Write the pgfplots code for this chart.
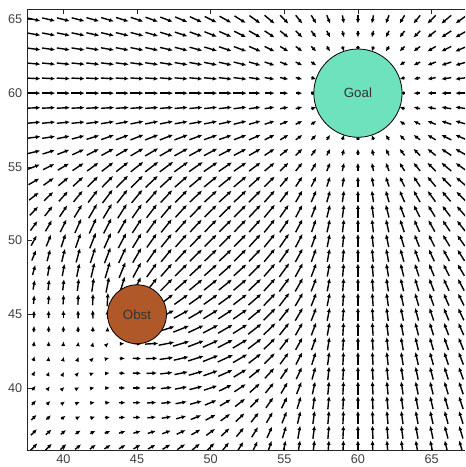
\documentclass[border=0pt]{standalone}
\usepackage{fontspec}
\setmainfont{Liberation Sans}
\usepackage{pgfplots}
\usepackage{pgfplotstable}
\pgfplotsset{compat=1.18}
\usetikzlibrary{arrows.meta}
\definecolor{goalc}{RGB}{110,226,188}
\definecolor{obstc}{RGB}{176,88,40}
\pgfplotstableread{
x y fx fy L
38 65 22 -5 0.9
39 65 21 -5 0.9
40 65 20 -5 0.9
41 65 19 -5 0.9
42 65 18 -5 0.9
43 65 17 -5 0.9
44 65 16 -5 0.9
45 65 15 -5 0.9
46 65 14 -5 0.9
47 65 13 -5 0.9
48 65 12 -5 0.9
49 65 11 -5 0.9
50 65 10 -5 0.9
51 65 9 -5 0.9
52 65 8 -5 0.9
53 65 7 -5 0.9
54 65 6 -5 0.88
55 65 5 -5 0.8
56 65 4 -5 0.72
57 65 3 -5 0.66
58 65 2 -5 0.61
59 65 1 -5 0.57
60 65 0 -5 0.56
61 65 -1 -5 0.57
62 65 -2 -5 0.61
63 65 -3 -5 0.66
64 65 -4 -5 0.72
65 65 -5 -5 0.8
66 65 -6 -5 0.88
67 65 -7 -5 0.9
38 64 22 -4 0.9
39 64 21 -4 0.9
40 64 20 -4 0.9
41 64 19 -4 0.9
42 64 18 -4 0.9
43 64 17 -4 0.9
44 64 16 -4 0.9
45 64 15 -4 0.9
46 64 14 -4 0.9
47 64 13 -4 0.9
48 64 12 -4 0.9
49 64 11 -4 0.9
50 64 10 -4 0.9
51 64 9 -4 0.9
52 64 8 -4 0.9
53 64 7 -4 0.9
54 64 6 -4 0.81
55 64 5 -4 0.72
56 64 4 -4 0.64
57 64 3 -4 0.56
58 64 2 -4 0.5
59 64 1 -4 0.46
60 64 0 -4 0.45
61 64 -1 -4 0.46
62 64 -2 -4 0.5
63 64 -3 -4 0.56
64 64 -4 -4 0.64
65 64 -5 -4 0.72
66 64 -6 -4 0.81
67 64 -7 -4 0.9
38 63 22 -3 0.9
39 63 21 -3 0.9
40 63 20 -3 0.9
41 63 19 -3 0.9
42 63 18 -3 0.9
43 63 17 -3 0.9
44 63 16 -3 0.9
45 63 15 -3 0.9
46 63 14 -3 0.9
47 63 13 -3 0.9
48 63 12 -3 0.9
49 63 11 -3 0.9
50 63 10 -3 0.9
51 63 9 -3 0.9
52 63 8 -3 0.9
53 63 7 -3 0.86
54 63 6 -3 0.75
55 63 5 -3 0.66
56 63 4 -3 0.56
57 63 3 -3 0.48
58 63 2 -3 0.41
59 63 1 -3 0.36
60 63 0 -3 0.34
61 63 -1 -3 0.36
62 63 -2 -3 0.41
63 63 -3 -3 0.48
64 63 -4 -3 0.56
65 63 -5 -3 0.66
66 63 -6 -3 0.75
67 63 -7 -3 0.86
38 62 22 -2 0.9
39 62 21 -2 0.9
40 62 20 -2 0.9
41 62 19 -2 0.9
42 62 18 -2 0.9
43 62 17 -2 0.9
44 62 16 -2 0.9
45 62 15 -2 0.9
46 62 14 -2 0.9
47 62 13 -2 0.9
48 62 12 -2 0.9
49 62 11 -2 0.9
50 62 10 -2 0.9
51 62 9 -2 0.9
52 62 8 -2 0.9
53 62 7 -2 0.82
54 62 6 -2 0.71
55 62 5 -2 0.61
56 62 4 -2 0.5
57 62 3 -2 0.41
63 62 -3 -2 0.41
64 62 -4 -2 0.5
65 62 -5 -2 0.61
66 62 -6 -2 0.71
67 62 -7 -2 0.82
38 61 22 -1 0.9
39 61 21 -1 0.9
40 61 20 -1 0.9
41 61 19 -1 0.9
42 61 18 -1 0.9
43 61 17 -1 0.9
44 61 16 -1 0.9
45 61 15 -1 0.9
46 61 14 -1 0.9
47 61 13 -1 0.9
48 61 12 -1 0.9
49 61 11 -1 0.9
50 61 10 -1 0.9
51 61 9 -1 0.9
52 61 8 -1 0.9
53 61 7 -1 0.8
54 61 6 -1 0.68
55 61 5 -1 0.57
56 61 4 -1 0.46
57 61 3 -1 0.36
63 61 -3 -1 0.36
64 61 -4 -1 0.46
65 61 -5 -1 0.57
66 61 -6 -1 0.68
67 61 -7 -1 0.8
38 60 22 0 0.9
39 60 21 0 0.9
40 60 20 0 0.9
41 60 19 0 0.9
42 60 18 0 0.9
43 60 17 0 0.9
44 60 16 0 0.9
45 60 15 0 0.9
46 60 14 0 0.9
47 60 13 0 0.9
48 60 12 0 0.9
49 60 11 0 0.9
50 60 10 0 0.9
51 60 9 0 0.9
52 60 8 0 0.9
53 60 7 0 0.79
54 60 6 0 0.68
55 60 5 0 0.56
56 60 4 0 0.45
57 60 3 0 0.34
63 60 -3 0 0.34
64 60 -4 0 0.45
65 60 -5 0 0.56
66 60 -6 0 0.68
67 60 -7 0 0.79
38 59 22 1 0.9
39 59 21 1 0.9
40 59 20 1 0.9
41 59 19 1 0.9
42 59 18 1 0.9
43 59 17 1 0.9
44 59 16 1 0.9
45 59 15 1 0.9
46 59 14 1 0.9
47 59 13 1 0.9
48 59 12 1 0.9
49 59 11 1 0.9
50 59 10 1 0.9
51 59 9 1 0.9
52 59 8 1 0.9
53 59 7 1 0.8
54 59 6 1 0.68
55 59 5 1 0.57
56 59 4 1 0.46
57 59 3 1 0.36
63 59 -3 1 0.36
64 59 -4 1 0.46
65 59 -5 1 0.57
66 59 -6 1 0.68
67 59 -7 1 0.8
38 58 22 2 0.9
39 58 21 2 0.9
40 58 20 2 0.9
41 58 19 2 0.9
42 58 0.990 0.129 0.9
43 58 0.987 0.159 0.9
44 58 0.988 0.181 0.9
45 58 0.991 0.194 0.91
46 58 0.994 0.198 0.91
47 58 0.995 0.194 0.91
48 58 0.990 0.183 0.9
49 58 11 2 0.9
50 58 10 2 0.9
51 58 9 2 0.9
52 58 8 2 0.9
53 58 7 2 0.82
54 58 6 2 0.71
55 58 5 2 0.61
56 58 4 2 0.5
57 58 3 2 0.41
63 58 -3 2 0.41
64 58 -4 2 0.5
65 58 -5 2 0.61
66 58 -6 2 0.71
67 58 -7 2 0.82
38 57 22 3 0.9
39 57 0.99 0.15 0.89
40 57 0.965 0.205 0.89
41 57 0.955 0.255 0.89
42 57 0.952 0.299 0.9
43 57 0.958 0.336 0.91
44 57 0.968 0.363 0.93
45 57 0.981 0.381 0.95
46 57 0.993 0.388 0.96
47 57 1.001 0.387 0.97
48 57 1.004 0.378 0.97
49 57 0.998 0.362 0.95
50 57 0.982 0.344 0.94
51 57 0.953 0.325 0.9
52 57 8 3 0.9
53 57 7 3 0.86
54 57 6 3 0.75
55 57 5 3 0.66
56 57 4 3 0.56
57 57 3 3 0.48
58 57 2 3 0.41
59 57 1 3 0.36
60 57 0 3 0.34
61 57 -1 3 0.36
62 57 -2 3 0.41
63 57 -3 3 0.48
64 57 -4 3 0.56
65 57 -5 3 0.66
66 57 -6 3 0.75
67 57 -7 3 0.86
38 56 0.953 0.227 0.88
39 56 0.925 0.292 0.87
40 56 0.909 0.355 0.88
41 56 0.903 0.414 0.89
42 56 0.908 0.466 0.92
43 56 0.922 0.51 0.95
44 56 0.943 0.544 0.98
45 56 0.966 0.566 1.01
46 56 0.989 0.576 1.03
47 56 1.007 0.575 1.04
48 56 1.017 0.565 1.05
49 56 1.016 0.55 1.04
50 56 1.0 0.53 1.02
51 56 0.971 0.511 0.99
52 56 0.925 0.495 0.94
53 56 7 4 0.9
54 56 6 4 0.81
55 56 5 4 0.72
56 56 4 4 0.64
57 56 3 4 0.56
58 56 2 4 0.5
59 56 1 4 0.46
60 56 0 4 0.45
61 56 -1 4 0.46
62 56 -2 4 0.5
63 56 -3 4 0.56
64 56 -4 4 0.64
65 56 -5 4 0.72
66 56 -6 4 0.81
67 56 -7 4 0.9
38 55 0.884 0.352 0.86
39 55 0.857 0.426 0.86
40 55 0.842 0.498 0.88
41 55 0.842 0.567 0.91
42 55 0.856 0.629 0.96
43 55 0.879 0.681 1.0
44 55 0.912 0.721 1.05
45 55 0.949 0.747 1.09
46 55 0.984 0.758 1.12
47 55 1.013 0.758 1.14
48 55 1.031 0.746 1.15
49 55 1.035 0.726 1.14
50 55 1.022 0.703 1.12
51 55 0.99 0.68 1.08
52 55 0.939 0.66 1.03
53 55 0.867 0.648 0.97
54 55 0.75 0.625 0.88
55 55 5 5 0.8
56 55 4 5 0.72
57 55 3 5 0.66
58 55 2 5 0.61
59 55 1 5 0.57
60 55 0 5 0.56
61 55 -1 5 0.57
62 55 -2 5 0.61
63 55 -3 5 0.66
64 55 -4 5 0.72
65 55 -5 5 0.8
66 55 -6 5 0.88
67 55 -7 5 0.9
38 54 0.806 0.467 0.84
39 54 0.778 0.55 0.86
40 54 0.766 0.632 0.89
41 54 0.771 0.712 0.94
42 54 0.793 0.785 1.0
43 54 0.829 0.847 1.07
44 54 0.876 0.895 1.13
45 54 0.928 0.925 1.15
46 54 0.979 0.938 1.15
47 54 1.022 0.933 1.15
48 54 1.05 0.916 1.15
49 54 1.061 0.89 1.15
50 54 1.049 0.86 1.15
51 54 1.015 0.83 1.15
52 54 0.959 0.804 1.13
53 54 0.878 0.785 1.06
54 54 0.774 0.774 0.99
55 54 0.625 0.75 0.88
56 54 4 6 0.81
57 54 3 6 0.75
58 54 2 6 0.71
59 54 1 6 0.68
60 54 0 6 0.68
61 54 -1 6 0.68
62 54 -2 6 0.71
63 54 -3 6 0.75
64 54 -4 6 0.81
65 54 -5 6 0.88
66 54 -6 6 0.9
67 54 -7 6 0.9
38 53 0.72 0.569 0.83
39 53 0.691 0.661 0.86
40 53 0.679 0.754 0.91
41 53 0.688 0.847 0.98
42 53 0.718 0.934 1.06
43 53 0.768 1.008 1.14
44 53 0.833 1.065 1.15
45 53 0.906 1.1 1.15
46 53 0.977 1.111 1.15
47 53 1.037 1.101 1.15
48 53 1.078 1.075 1.15
49 53 1.095 1.039 1.15
50 53 1.084 0.998 1.15
51 53 1.047 0.959 1.15
52 53 0.986 0.925 1.15
53 53 0.897 0.897 1.14
54 53 0.785 0.878 1.06
55 53 0.648 0.867 0.97
56 53 4 7 0.9
57 53 3 7 0.86
58 53 2 7 0.82
59 53 1 7 0.8
60 53 0 7 0.79
61 53 -1 7 0.8
62 53 -2 7 0.82
63 53 -3 7 0.86
64 53 -4 7 0.9
65 53 -5 7 0.9
66 53 -6 7 0.9
67 53 -7 7 0.9
38 52 0.627 0.655 0.82
39 52 0.592 0.756 0.86
40 52 0.578 0.862 0.93
41 52 0.59 0.969 1.02
42 52 0.629 1.072 1.12
43 52 0.695 1.162 1.15
44 52 0.782 1.23 1.15
45 52 0.882 1.271 1.15
46 52 0.98 1.279 1.15
47 52 1.062 1.26 1.15
48 52 1.117 1.221 1.15
49 52 1.141 1.169 1.15
50 52 1.131 1.115 1.15
51 52 1.09 1.064 1.15
52 52 1.02 1.02 1.15
53 52 0.925 0.986 1.15
54 52 0.804 0.959 1.13
55 52 0.66 0.939 1.03
56 52 0.495 0.925 0.94
57 52 3 8 0.9
58 52 2 8 0.9
59 52 1 8 0.9
60 52 0 8 0.9
61 52 -1 8 0.9
62 52 -2 8 0.9
63 52 -3 8 0.9
64 52 -4 8 0.9
65 52 -5 8 0.9
66 52 -6 8 0.9
67 52 -7 8 0.9
38 51 0.526 0.722 0.8
39 51 0.483 0.83 0.86
40 51 0.464 0.948 0.95
41 51 0.475 1.072 1.06
42 51 0.536 1.163 1.15
43 51 0.631 1.227 1.15
44 51 0.74 1.279 1.15
45 51 0.858 1.315 1.15
46 51 0.973 1.33 1.15
47 51 1.075 1.328 1.15
48 51 1.158 1.316 1.15
49 51 1.203 1.277 1.15
50 51 1.192 1.207 1.15
51 51 1.144 1.144 1.15
52 51 1.064 1.09 1.15
53 51 0.959 1.047 1.15
54 51 0.83 1.015 1.15
55 51 0.68 0.99 1.08
56 51 0.511 0.971 0.99
57 51 0.325 0.953 0.9
58 51 2 9 0.9
59 51 1 9 0.9
60 51 0 9 0.9
61 51 -1 9 0.9
62 51 -2 9 0.9
63 51 -3 9 0.9
64 51 -4 9 0.9
65 51 -5 9 0.9
66 51 -6 9 0.9
67 51 -7 9 0.9
38 50 0.419 0.764 0.78
39 50 0.365 0.879 0.86
40 50 0.335 1.007 0.95
41 50 0.385 1.091 1.04
42 50 0.463 1.172 1.13
43 50 0.565 1.25 1.15
44 50 0.691 1.315 1.15
45 50 0.832 1.355 1.15
46 50 0.971 1.366 1.15
47 50 1.09 1.353 1.15
48 50 1.18 1.326 1.15
49 50 1.24 1.297 1.15
50 50 1.267 1.267 1.15
51 50 1.207 1.192 1.15
52 50 1.115 1.131 1.15
53 50 0.998 1.084 1.15
54 50 0.86 1.049 1.15
55 50 0.703 1.022 1.12
56 50 0.53 1.0 1.02
57 50 0.344 0.982 0.94
58 50 2 10 0.9
59 50 1 10 0.9
60 50 0 10 0.9
61 50 -1 10 0.9
62 50 -2 10 0.9
63 50 -3 10 0.9
64 50 -4 10 0.9
65 50 -5 10 0.9
66 50 -6 10 0.9
67 50 -7 10 0.9
38 49 0.313 0.779 0.76
39 49 0.242 0.893 0.83
40 49 0.251 0.982 0.91
41 49 0.3 1.067 1.0
42 49 0.373 1.162 1.1
43 49 0.482 1.259 1.15
44 49 0.63 1.343 1.15
45 49 0.806 1.391 1.15
46 49 0.98 1.394 1.15
47 49 1.121 1.362 1.15
48 49 1.217 1.316 1.15
49 49 1.273 1.273 1.15
50 49 1.297 1.24 1.15
51 49 1.277 1.203 1.15
52 49 1.169 1.141 1.15
53 49 1.039 1.095 1.15
54 49 0.89 1.061 1.15
55 49 0.726 1.035 1.14
56 49 0.55 1.016 1.04
57 49 0.362 0.998 0.95
58 49 2 11 0.9
59 49 1 11 0.9
60 49 0 11 0.9
61 49 -1 11 0.9
62 49 -2 11 0.9
63 49 -3 11 0.9
64 49 -4 11 0.9
65 49 -5 11 0.9
66 49 -6 11 0.9
67 49 -7 11 0.9
38 48 0.212 0.764 0.71
39 48 0.152 0.854 0.78
40 48 0.172 0.926 0.85
41 48 0.206 1.014 0.93
42 48 0.266 1.12 1.04
43 48 0.373 1.243 1.15
44 48 0.547 1.359 1.15
45 48 0.781 1.425 1.15
46 48 1.012 1.41 1.15
47 48 1.179 1.344 1.15
48 48 1.273 1.273 1.15
49 48 1.316 1.217 1.15
50 48 1.326 1.18 1.15
51 48 1.316 1.158 1.15
52 48 1.221 1.117 1.15
53 48 1.075 1.078 1.15
54 48 0.916 1.05 1.15
55 48 0.746 1.031 1.15
56 48 0.565 1.017 1.05
57 48 0.378 1.004 0.97
58 48 0.183 0.99 0.9
59 48 1 12 0.9
60 48 0 12 0.9
61 48 -1 12 0.9
62 48 -2 12 0.9
63 48 -3 12 0.9
64 48 -4 12 0.9
65 48 -5 12 0.9
66 48 -6 12 0.9
67 48 -7 12 0.9
38 47 0.125 0.719 0.66
39 47 0.091 0.779 0.71
40 47 0.096 0.842 0.76
41 47 0.11 0.923 0.84
42 47 0.145 1.03 0.94
43 47 0.229 1.173 1.08
44 47 0.418 1.346 1.15
45 47 0.756 1.455 1.15
46 47 1.091 1.396 1.15
47 47 1.273 1.273 1.15
48 47 1.344 1.179 1.15
49 47 1.362 1.121 1.15
50 47 1.353 1.09 1.15
51 47 1.328 1.075 1.15
52 47 1.26 1.062 1.15
53 47 1.101 1.037 1.15
54 47 0.933 1.022 1.15
55 47 0.758 1.013 1.14
56 47 0.575 1.007 1.04
57 47 0.387 1.001 0.97
58 47 0.194 0.995 0.91
59 47 1 13 0.9
60 47 0 13 0.9
61 47 -1 13 0.9
62 47 -2 13 0.9
63 47 -3 13 0.9
64 47 -4 13 0.9
65 47 -5 13 0.9
66 47 -6 13 0.9
67 47 -7 13 0.9
38 46 0.061 0.649 0.59
39 46 0.043 0.686 0.62
40 46 0.035 0.73 0.66
41 46 0.029 0.787 0.71
42 46 0.03 0.867 0.78
43 46 0.057 0.994 0.9
47 46 1.396 1.091 1.15
48 46 1.41 1.012 1.15
49 46 1.394 0.98 1.15
50 46 1.366 0.971 1.15
51 46 1.33 0.973 1.15
52 46 1.279 0.98 1.15
53 46 1.111 0.977 1.15
54 46 0.938 0.979 1.15
55 46 0.758 0.984 1.12
56 46 0.576 0.989 1.03
57 46 0.388 0.993 0.96
58 46 0.198 0.994 0.91
59 46 1 14 0.9
60 46 0 14 0.9
61 46 -1 14 0.9
62 46 -2 14 0.9
63 46 -3 14 0.9
64 46 -4 14 0.9
65 46 -5 14 0.9
66 46 -6 14 0.9
67 46 -7 14 0.9
38 45 0.026 0.563 0.51
39 45 0.014 0.581 0.52
40 45 0 0.6 0.54
41 45 -0.015 0.62 0.56
42 45 -0.032 0.64 0.58
43 45 -0.05 0.662 0.6
47 45 1.455 0.756 1.15
48 45 1.425 0.781 1.15
49 45 1.391 0.806 1.15
50 45 1.355 0.832 1.15
51 45 1.315 0.858 1.15
52 45 1.271 0.882 1.15
53 45 1.1 0.906 1.15
54 45 0.925 0.928 1.15
55 45 0.747 0.949 1.09
56 45 0.566 0.966 1.01
57 45 0.381 0.981 0.95
58 45 0.194 0.991 0.91
59 45 1 15 0.9
60 45 0 15 0.9
61 45 -1 15 0.9
62 45 -2 15 0.9
63 45 -3 15 0.9
64 45 -4 15 0.9
65 45 -5 15 0.9
66 45 -6 15 0.9
67 45 -7 15 0.9
38 44 0.026 0.476 0.43
39 44 0.006 0.475 0.43
40 44 -0.003 0.468 0.42
41 44 -0.011 0.45 0.41
42 44 -0.012 0.411 0.37
43 44 0.013 0.327 0.29
47 44 1.346 0.418 1.15
48 44 1.359 0.547 1.15
49 44 1.343 0.63 1.15
50 44 1.315 0.691 1.15
51 44 1.279 0.74 1.15
52 44 1.23 0.782 1.15
53 44 1.065 0.833 1.15
54 44 0.895 0.876 1.13
55 44 0.721 0.912 1.05
56 44 0.544 0.943 0.98
57 44 0.363 0.968 0.93
58 44 0.181 0.988 0.9
59 44 1 16 0.9
60 44 0 16 0.9
61 44 -1 16 0.9
62 44 -2 16 0.9
63 44 -3 16 0.9
64 44 -4 16 0.9
65 44 -5 16 0.9
66 44 -6 16 0.9
67 44 -7 16 0.9
38 43 0.055 0.401 0.36
39 43 0.018 0.376 0.34
40 43 0.019 0.351 0.32
41 43 0.03 0.309 0.28
42 43 0.061 0.243 0.23
43 43 0.141 0.141 0.18
44 43 0.327 0.013 0.29
45 43 0.662 -0.05 0.6
46 43 0.994 0.057 0.9
47 43 1.173 0.229 1.08
48 43 1.243 0.373 1.15
49 43 1.259 0.482 1.15
50 43 1.25 0.565 1.15
51 43 1.227 0.631 1.15
52 43 1.162 0.695 1.15
53 43 1.008 0.768 1.14
54 43 0.847 0.829 1.07
55 43 0.681 0.879 1.0
56 43 0.51 0.922 0.95
57 43 0.336 0.958 0.91
58 43 0.159 0.987 0.9
59 43 1 17 0.9
60 43 0 17 0.9
61 43 -1 17 0.9
62 43 -2 17 0.9
63 43 -3 17 0.9
64 43 -4 17 0.9
65 43 -5 17 0.9
66 43 -6 17 0.9
67 43 -7 17 0.9
38 42 0.108 0.348 0.33
39 42 0.043 0.293 0.27
40 42 0.057 0.257 0.24
41 42 0.086 0.208 0.2
42 42 0.141 0.141 0.18
43 42 0.243 0.061 0.23
44 42 0.411 -0.012 0.37
45 42 0.64 -0.032 0.58
46 42 0.867 0.03 0.78
47 42 1.03 0.145 0.94
48 42 1.12 0.266 1.04
49 42 1.162 0.373 1.1
50 42 1.172 0.463 1.13
51 42 1.163 0.536 1.15
52 42 1.072 0.629 1.12
53 42 0.934 0.718 1.06
54 42 0.785 0.793 1.0
55 42 0.629 0.856 0.96
56 42 0.466 0.908 0.92
57 42 0.299 0.952 0.9
58 42 0.129 0.99 0.9
59 42 1 18 0.9
60 42 0 18 0.9
61 42 -1 18 0.9
62 42 -2 18 0.9
63 42 -3 18 0.9
64 42 -4 18 0.9
65 42 -5 18 0.9
66 42 -6 18 0.9
67 42 -7 18 0.9
38 41 0.176 0.322 0.33
39 41 0.098 0.242 0.24
40 41 0.1 0.189 0.19
41 41 0.141 0.141 0.18
42 41 0.208 0.086 0.2
43 41 0.309 0.03 0.28
44 41 0.45 -0.011 0.41
45 41 0.62 -0.015 0.56
46 41 0.787 0.029 0.71
47 41 0.923 0.11 0.84
48 41 1.014 0.206 0.93
49 41 1.067 0.3 1.0
50 41 1.091 0.385 1.04
51 41 1.072 0.475 1.06
52 41 0.969 0.59 1.02
53 41 0.847 0.688 0.98
54 41 0.712 0.771 0.94
55 41 0.567 0.842 0.91
56 41 0.414 0.903 0.89
57 41 0.255 0.955 0.89
58 41 2 19 0.9
59 41 1 19 0.9
60 41 0 19 0.9
61 41 -1 19 0.9
62 41 -2 19 0.9
63 41 -3 19 0.9
64 41 -4 19 0.9
65 41 -5 19 0.9
66 41 -6 19 0.9
67 41 -7 19 0.9
38 40 0.249 0.323 0.37
39 40 0.186 0.241 0.27
40 40 0.148 0.148 0.19
41 40 0.189 0.1 0.19
42 40 0.257 0.057 0.24
43 40 0.351 0.019 0.32
44 40 0.468 -0.003 0.42
45 40 0.6 0 0.54
46 40 0.73 0.035 0.66
47 40 0.842 0.096 0.76
48 40 0.926 0.172 0.85
49 40 0.982 0.251 0.91
50 40 1.007 0.335 0.95
51 40 0.948 0.464 0.95
52 40 0.862 0.578 0.93
53 40 0.754 0.679 0.91
54 40 0.632 0.766 0.89
55 40 0.498 0.842 0.88
56 40 0.355 0.909 0.88
57 40 0.205 0.965 0.89
58 40 2 20 0.9
59 40 1 20 0.9
60 40 0 20 0.9
61 40 -1 20 0.9
62 40 -2 20 0.9
63 40 -3 20 0.9
64 40 -4 20 0.9
65 40 -5 20 0.9
66 40 -6 20 0.9
67 40 -7 20 0.9
38 39 0.323 0.348 0.43
39 39 0.271 0.271 0.34
40 39 0.241 0.186 0.27
41 39 0.242 0.098 0.24
42 39 0.293 0.043 0.27
43 39 0.376 0.018 0.34
44 39 0.475 0.006 0.43
45 39 0.581 0.014 0.52
46 39 0.686 0.043 0.62
47 39 0.779 0.091 0.71
48 39 0.854 0.152 0.78
49 39 0.893 0.242 0.83
50 39 0.879 0.365 0.86
51 39 0.83 0.483 0.86
52 39 0.756 0.592 0.86
53 39 0.661 0.691 0.86
54 39 0.55 0.778 0.86
55 39 0.426 0.857 0.86
56 39 0.292 0.925 0.87
57 39 0.15 0.99 0.89
58 39 2 21 0.9
59 39 1 21 0.9
60 39 0 21 0.9
61 39 -1 21 0.9
62 39 -2 21 0.9
63 39 -3 21 0.9
64 39 -4 21 0.9
65 39 -5 21 0.9
66 39 -6 21 0.9
67 39 -7 21 0.9
38 38 0.394 0.394 0.5
39 38 0.348 0.323 0.43
40 38 0.323 0.249 0.37
41 38 0.322 0.176 0.33
42 38 0.348 0.108 0.33
43 38 0.401 0.055 0.36
44 38 0.476 0.026 0.43
45 38 0.563 0.026 0.51
46 38 0.649 0.061 0.59
47 38 0.719 0.125 0.66
48 38 0.764 0.212 0.71
49 38 0.779 0.313 0.76
50 38 0.764 0.419 0.78
51 38 0.722 0.526 0.8
52 38 0.655 0.627 0.82
53 38 0.569 0.72 0.83
54 38 0.467 0.806 0.84
55 38 0.352 0.884 0.86
56 38 0.227 0.953 0.88
57 38 3 22 0.9
58 38 2 22 0.9
59 38 1 22 0.9
60 38 0 22 0.9
61 38 -1 22 0.9
62 38 -2 22 0.9
63 38 -3 22 0.9
64 38 -4 22 0.9
65 38 -5 22 0.9
66 38 -6 22 0.9
67 38 -7 22 0.9
38 37 0.458 0.457 0.58
39 37 0.416 0.394 0.52
40 37 0.391 0.331 0.46
41 37 0.386 0.269 0.42
42 37 0.402 0.216 0.41
43 37 0.437 0.177 0.42
44 37 0.488 0.157 0.46
45 37 0.546 0.161 0.51
46 37 0.603 0.19 0.57
47 37 0.649 0.244 0.62
48 37 0.677 0.316 0.67
49 37 0.682 0.4 0.71
50 37 0.664 0.493 0.74
51 37 0.622 0.586 0.77
52 37 0.562 0.679 0.79
53 37 0.481 0.767 0.81
54 37 0.386 0.849 0.84
55 37 0.279 0.924 0.87
56 37 4 23 0.9
57 37 3 23 0.9
58 37 2 23 0.9
59 37 1 23 0.9
60 37 0 23 0.9
61 37 -1 23 0.9
62 37 -2 23 0.9
63 37 -3 23 0.9
64 37 -4 23 0.9
65 37 -5 23 0.9
66 37 -6 23 0.9
67 37 -7 23 0.9
38 36 0.517 0.533 0.67
39 36 0.475 0.478 0.61
40 36 0.448 0.423 0.55
41 36 0.439 0.373 0.52
42 36 0.444 0.331 0.5
43 36 0.464 0.302 0.5
44 36 0.495 0.288 0.52
45 36 0.53 0.294 0.55
46 36 0.564 0.32 0.58
47 36 0.59 0.365 0.62
48 36 0.603 0.425 0.66
49 36 0.599 0.498 0.7
50 36 0.577 0.578 0.74
51 36 0.534 0.661 0.77
52 36 0.475 0.745 0.8
53 36 0.399 0.826 0.83
54 36 0.31 0.903 0.86
55 36 0.208 0.975 0.88
56 36 4 24 0.9
57 36 3 24 0.9
58 36 2 24 0.9
59 36 1 24 0.9
60 36 0 24 0.9
61 36 -1 24 0.9
62 36 -2 24 0.9
63 36 -3 24 0.9
64 36 -4 24 0.9
65 36 -5 24 0.9
66 36 -6 24 0.9
67 36 -7 24 0.9
}\vf
\begin{document}
\begin{tikzpicture}
\begin{axis}[
  scale only axis, width=328.5pt, height=330.75pt,
  xmin=37.53, xmax=67.27, ymin=35.79, ymax=65.71,
  axis line style={draw=none},
  xtick={40,45,50,55,60,65}, ytick={40,45,50,55,60,65},
  ytick pos=left,
  tick align=inside, major tick length=3.5pt,
  tick style={black!85, line width=0.5pt},
  ticklabel style={font=\fontsize{9.5}{11}\selectfont, text=black!75},
  /pgf/number format/assume math mode=true,
]
\addplot[black, line width=1.05pt, -{Latex[length=3.4pt,width=3.1pt]},
  quiver={
    u={\thisrow{L}*\thisrow{fx}/veclen(\thisrow{fx},\thisrow{fy})},
    v={\thisrow{L}*\thisrow{fy}/veclen(\thisrow{fx},\thisrow{fy})}}]
  table[x expr={\thisrow{x}-0.5*\thisrow{L}*\thisrow{fx}/veclen(\thisrow{fx},\thisrow{fy})},
        y expr={\thisrow{y}-0.5*\thisrow{L}*\thisrow{fy}/veclen(\thisrow{fx},\thisrow{fy})}] {\vf};
\addplot[only marks, mark=*, mark size=33.1pt,
  mark options={fill=goalc, draw=black, line width=0.6pt},
  nodes near coords={Goal},
  every node near coord/.style={anchor=center, font=\fontsize{10}{11}\selectfont, text=black!80}]
  coordinates {(60,60)};
\addplot[only marks, mark=*, mark size=22.1pt,
  mark options={fill=obstc, draw=black, line width=0.6pt},
  nodes near coords={Obst},
  every node near coord/.style={anchor=center, font=\fontsize{10}{11}\selectfont, text=black!80}]
  coordinates {(45,45)};
\draw[black!85, line width=0.6pt] (rel axis cs:1,1) -- (rel axis cs:0,1) -- (rel axis cs:0,0) -- (rel axis cs:1,0);
\coordinate (sw) at (rel axis cs:0,0);
\coordinate (ne) at (rel axis cs:1,1);
\end{axis}
\pgfresetboundingbox
\path ([xshift=-20.25pt,yshift=-12.75pt]sw) rectangle ([yshift=6.75pt]ne);
\end{tikzpicture}
\end{document}
